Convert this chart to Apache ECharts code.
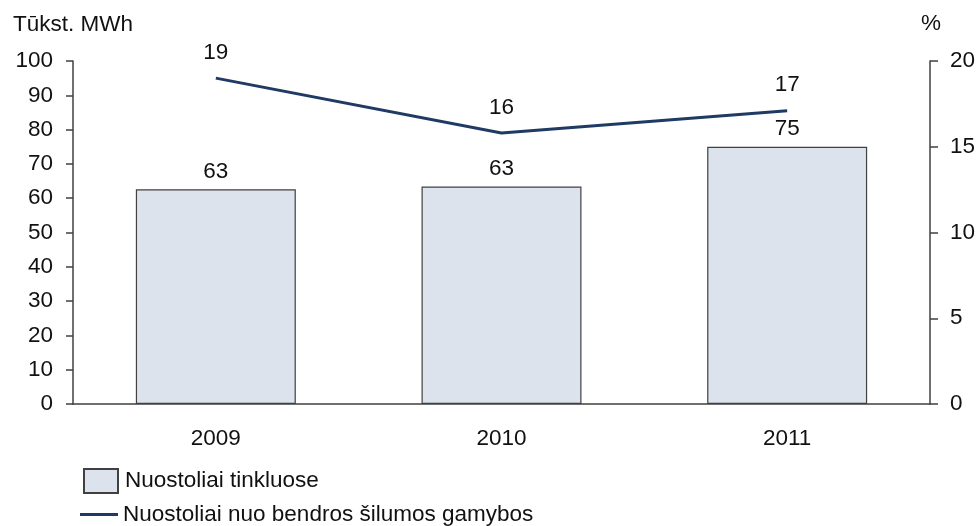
<!DOCTYPE html>
<html>
<head>
<meta charset="utf-8">
<script src="https://cdn.jsdelivr.net/npm/echarts@6/dist/echarts.min.js"></script>
<style>
  html, body { margin: 0; padding: 0; background: #ffffff; }
  #chart { width: 979px; height: 526px; }
</style>
</head>
<body>
<div id="chart"></div>
<script>
// Heat network losses, 2009–2011
const years = ['2009', '2010', '2011'];
const lossesTwh = [62.6, 63.4, 75];        // thousand MWh
const lossShare = [19, 15.8, 17.1];        // % of total heat production
const barName = 'Nuostoliai tinkluose';
const lineName = 'Nuostoliai nuo bendros šilumos gamybos';
const leftUnit = 'Tūkst. MWh';
const rightUnit = '%';

const FONT = '"Liberation Sans", Arial, sans-serif';
const FS = 22.5;
const AXIS = '#404040';
const TXT = '#111111';
const NAVY = '#1f3a63';

const chart = echarts.init(document.getElementById('chart'), null, { renderer: 'canvas' });

chart.setOption({
  backgroundColor: '#ffffff',
  animation: false,
  textStyle: { fontFamily: FONT, color: TXT },
  title: [
    { text: leftUnit, left: 13, top: 13, padding: 0,
      textStyle: { fontFamily: FONT, fontSize: FS, fontWeight: 'normal', color: TXT } },
    { text: rightUnit, left: 921, top: 12, padding: 0,
      textStyle: { fontFamily: FONT, fontSize: FS, fontWeight: 'normal', color: TXT } }
  ],
  grid: { left: 73, right: 49, top: 61, bottom: 122, containLabel: false, outerBoundsMode: 'none' },
  legend: [
    {
      data: [{ name: barName, icon: 'rect' }],
      left: 83, top: 468, padding: 0,
      itemWidth: 34, itemHeight: 24, itemGap: 10,
      textStyle: { fontFamily: FONT, fontSize: FS, color: TXT, padding: [0, 0, 0, 2] },
      selectedMode: false
    },
    {
      data: [{ name: lineName, icon: 'rect', itemStyle: { color: NAVY } }],
      left: 80, top: 503, padding: 0,
      itemWidth: 38, itemHeight: 3, itemGap: 10,
      textStyle: { fontFamily: FONT, fontSize: FS, color: TXT },
      selectedMode: false
    }
  ],
  xAxis: {
    type: 'category',
    data: years,
    axisLine: { show: true, lineStyle: { color: AXIS, width: 1.5 } },
    axisTick: { show: false },
    axisLabel: { fontFamily: FONT, fontSize: FS, color: TXT, margin: 23 }
  },
  yAxis: [
    {
      type: 'value',
      min: 0, max: 100, interval: 10,
      axisLine: { show: true, lineStyle: { color: AXIS, width: 1.5 } },
      axisTick: { show: true, length: 7, lineStyle: { color: AXIS, width: 1.5 } },
      axisLabel: { fontFamily: FONT, fontSize: FS, color: TXT, margin: 20 },
      splitLine: { show: false }
    },
    {
      type: 'value',
      min: 0, max: 20, interval: 5,
      position: 'right',
      axisLine: { show: true, lineStyle: { color: AXIS, width: 1.5 } },
      axisTick: { show: true, length: 8, lineStyle: { color: AXIS, width: 1.5 } },
      axisLabel: { fontFamily: FONT, fontSize: FS, color: TXT, margin: 20 },
      splitLine: { show: false }
    }
  ],
  series: [
    {
      name: barName,
      type: 'bar',
      data: lossesTwh,
      barWidth: '56%',
      itemStyle: { color: '#dce3ed', borderColor: '#404040', borderWidth: 1.2 },
      label: {
        show: true, position: 'top', distance: 6,
        fontFamily: FONT, fontSize: FS, color: TXT,
        formatter: p => Math.round(p.value)
      },
      z: 2
    },
    {
      name: lineName,
      type: 'line',
      yAxisIndex: 1,
      data: lossShare,
      symbol: 'circle',
      symbolSize: 0,
      showSymbol: true,
      lineStyle: { color: NAVY, width: 3 },
      itemStyle: { color: NAVY },
      label: {
        show: true, position: 'top', distance: 14,
        fontFamily: FONT, fontSize: FS, color: TXT,
        formatter: p => Math.round(p.value)
      },
      z: 3
    }
  ]
});
</script>
</body>
</html>
